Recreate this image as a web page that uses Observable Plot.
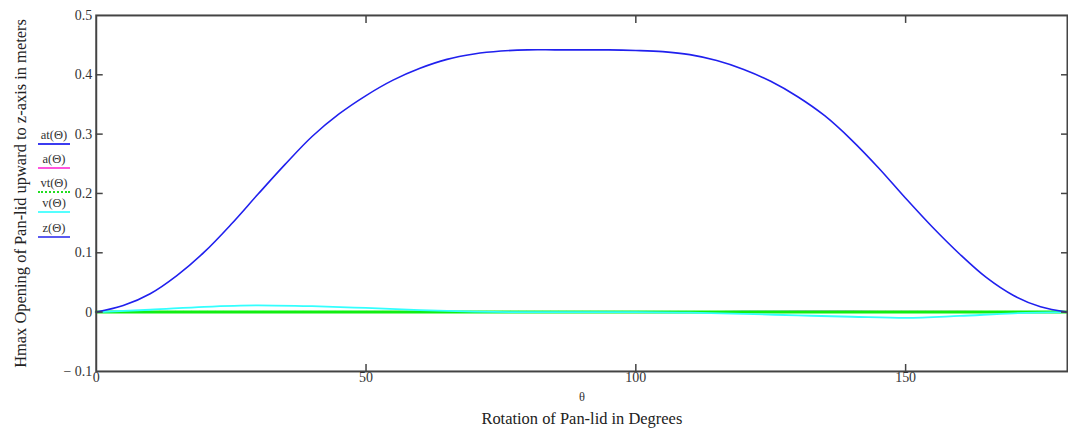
<!DOCTYPE html>
<html><head><meta charset="utf-8">
<script src="https://cdn.jsdelivr.net/npm/d3@7"></script>
<script src="https://cdn.jsdelivr.net/npm/@observablehq/plot@0.6"></script>
<style>
body{margin:0;overflow:hidden;background:#fff}
#wrap{position:relative;width:1068px;height:439px;overflow:hidden}
.lg{position:absolute;left:38px;width:32px;font:12.5px "Liberation Serif",serif;color:#333;text-align:center;line-height:14px}
.lg span{display:block;margin-top:1px;height:0;border-top:2px solid}
</style></head><body><div id="wrap"></div>
<script>
// angle (degrees)
const theta5 = [0,5,10,15,20,25,30,35,40,45,50,55,60,65,70,75,80,85,90,95,100,105,110,115,120,125,130,135,140,145,150,155,160,165,170,175,180];
// z(θ) – lid opening (m)
const zVals = [0.000,0.011,0.031,0.062,0.101,0.148,0.199,0.249,0.296,0.334,0.365,0.391,0.411,0.426,0.435,0.440,0.442,0.442,0.442,0.442,0.441,0.439,0.434,0.424,0.409,0.389,0.363,0.331,0.290,0.243,0.192,0.143,0.098,0.058,0.028,0.009,0.000];
const theta10 = [0,10,20,30,40,50,60,70,80,90,100,110,120,130,140,150,160,170,180];
const vVals  = [0,0.004,0.009,0.0115,0.010,0.007,0.0035,0.001,0,0,0,-0.001,-0.003,-0.0055,-0.0078,-0.0098,-0.0065,-0.002,0];
const vtVals = [0,0,0,0,0,0,0,0,0,0,0,0,0,0,0,0,0,0,0];
const aVals  = [0,0,0,0,0,0,0,0,0,0,0,0,0,0.001,0.001,0.001,0.001,0,0];
const atVals = [0,0,0,0,0,0,0,0,0,0,0,0,0.001,0.001,0.001,0,0,0,0];
const yTicks = [-0.1,0,0.1,0.2,0.3,0.4,0.5];
const xTicks = [0,50,100,150];
const yLabel = "Hmax Opening of Pan-lid upward to z-axis in meters";
const xVar = "θ";
const xLabel = "Rotation of Pan-lid in Degrees";
const legend = [
  {name:"at(Θ)", color:"#3b3bf0", dash:false},
  {name:"a(Θ)", color:"#ff55dd", dash:false},
  {name:"vt(Θ)", color:"#22dd22", dash:true},
  {name:"v(Θ)", color:"#55ffff", dash:false},
  {name:"z(Θ)", color:"#5a5af0", dash:false}
];

const z = theta5.map((t,i)=>({t, y:zVals[i]}));
const mk = arr => theta10.map((t,i)=>({t, y:arr[i]}));
const serif = "Liberation Serif";
const fmtY = d => d===0 ? "0" : d<0 ? "− " + Math.abs(d).toFixed(1) : d.toFixed(1);

const chart = Plot.plot({
  width:1071, height:439,
  marginLeft:96, marginRight:1, marginTop:15, marginBottom:67,
  style:{fontFamily:serif, fontSize:"13px", color:"#333", background:"#fff"},
  x:{domain:[0,180], axis:null},
  y:{domain:[-0.1,0.5], axis:null},
  marks:[
    Plot.line(mk(atVals), {x:"t", y:"y", stroke:"#2020e8", strokeWidth:1.5}),
    Plot.line(mk(aVals), {x:"t", y:"y", stroke:"#ff40ff", strokeWidth:1.5}),
    Plot.line(mk(vtVals), {x:"t", y:"y", stroke:"#11ee11", strokeWidth:3, strokeDasharray:"7,1"}),
    Plot.line(mk(vVals), {x:"t", y:"y", stroke:"#33ffff", strokeWidth:1.8, curve:"monotone-x"}),
    Plot.line(z, {x:"t", y:"y", stroke:"#2020ee", strokeWidth:1.6, curve:"catmull-rom"}),
    Plot.frame({stroke:"#444", strokeWidth:2}),
    Plot.text(yTicks, {y:d=>d, text:fmtY, frameAnchor:"left", textAnchor:"end", dx:-4, fontSize:14, fontFamily:serif, fill:"#333"}),
    Plot.axisY(yTicks.slice(1,-1), {anchor:"left", tickSize:-7, text:null, label:null, stroke:"#444", strokeWidth:1.5}),
    Plot.axisY(yTicks.slice(1,-1), {anchor:"right", tickSize:-7, text:null, label:null, stroke:"#444", strokeWidth:1.5}),
    Plot.text(xTicks, {x:d=>d, text:d=>String(d), frameAnchor:"bottom", dy:11, fontSize:14, fontFamily:serif, fill:"#333"}),
    Plot.axisX(xTicks.slice(1), {anchor:"bottom", tickSize:-7, text:null, label:null, stroke:"#444", strokeWidth:1.5}),
    Plot.axisX(xTicks.slice(1), {anchor:"top", tickSize:-7, text:null, label:null, stroke:"#444", strokeWidth:1.5}),
    Plot.text([yLabel], {text:d=>d, frameAnchor:"left", textAnchor:"middle", dx:-76, rotate:-90, fontSize:16.5, fontFamily:serif, fill:"#222"}),
    Plot.text([xVar], {text:d=>d, frameAnchor:"bottom", dy:30, fontSize:12.5, fontFamily:serif, fill:"#333"}),
    Plot.text([xLabel], {text:d=>d, frameAnchor:"bottom", dy:53, fontSize:16.5, fontFamily:serif, fill:"#222"})
  ]
});
const wrap = document.getElementById("wrap");
wrap.appendChild(chart);
const tops = [128,152,176,196,221];
legend.forEach((d,i)=>{
  const el = document.createElement("div");
  el.className = "lg";
  el.style.top = tops[i] + "px";
  el.innerHTML = d.name + `<span style="border-top:${d.dash?'2px dotted':'2px solid'} ${d.color}"></span>`;
  wrap.appendChild(el);
});
</script></body></html>
